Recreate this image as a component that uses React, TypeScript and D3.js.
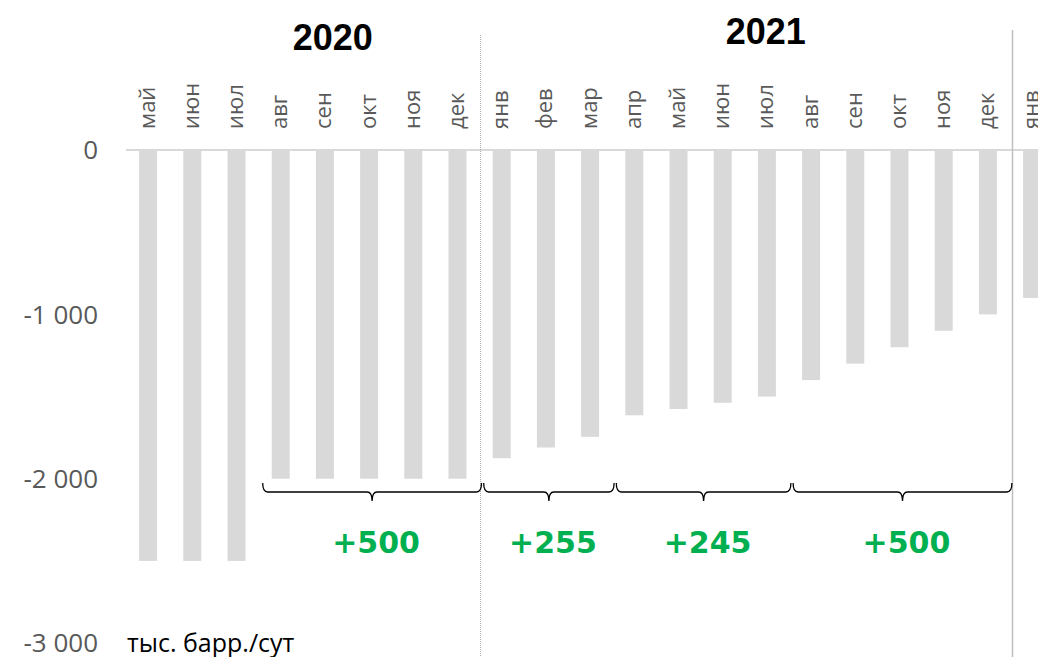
import React from "react";
import * as d3 from "d3";

const months = ["май","июн","июл","авг","сен","окт","ноя","дек","янв","фев","мар","апр","май","июн","июл","авг","сен","окт","ноя","дек","янв"];
const keys = ["2020-05","2020-06","2020-07","2020-08","2020-09","2020-10","2020-11","2020-12","2021-01","2021-02","2021-03","2021-04","2021-05","2021-06","2021-07","2021-08","2021-09","2021-10","2021-11","2021-12","2022-01"];
const values = [-2500,-2500,-2500,-2000,-2000,-2000,-2000,-2000,-1875,-1810,-1745,-1614,-1576,-1538,-1500,-1400,-1300,-1200,-1100,-1000,-900];
const yTicks = [0,-1000,-2000,-3000];
const yTickLabels = ["0","-1 000","-2 000","-3 000"];
const braceStart = ["2020-08","2021-01","2021-04","2021-08"];
const braceEnd = ["2020-12","2021-03","2021-07","2021-12"];
const braceLabels = ["+500","+255","+245","+500"];
const yearLabels = ["2020","2021"];
const yearFirst = ["2020-05","2021-01"];
const yearLast = ["2020-12","2021-12"];
const unitLabel = "тыс. барр./сут";

export default function App() {
  const W = 1038, H = 657;
  const n = keys.length;
  const step = 44.2;
  const x = d3.scaleBand<string>().domain(keys).range([126, 126 + n * step]).paddingInner(0.593).paddingOuter(0.2965);
  const y = d3.scaleLinear().domain([0, -3000]).range([150, 643.1]);
  const bw = x.bandwidth();
  const cx = (k: string) => (x(k) as number) + bw / 2;
  const font = "'Open Sans', sans-serif";

  const div1 = (cx("2020-12") + cx("2021-01")) / 2 + 1;
  const div2 = (cx("2021-12") + cx("2022-01")) / 2 + 2.5;

  const braceY0 = 483, braceY1 = 492, braceY2 = 501;
  const braces = braceStart.map((s, i) => {
    const x0 = cx(s) - 18;
    const x1 = cx(braceEnd[i]) + 24;
    const m = (x0 + x1) / 2;
    const p = `M${x0},${braceY0} Q${x0},${braceY1} ${x0 + 5},${braceY1} L${m - 5},${braceY1} Q${m},${braceY1} ${m},${braceY2} Q${m},${braceY1} ${m + 5},${braceY1} L${x1 - 5},${braceY1} Q${x1},${braceY1} ${x1},${braceY0}`;
    return { p, m, label: braceLabels[i] };
  });

  return (
    <svg width={W} height={H} style={{ position: "absolute", left: 0, top: 0, background: "#fff" }}>
      <line x1={126} x2={W} y1={y(0)} y2={y(0)} stroke="#d9d9d9" strokeWidth={2} />
      {keys.map((k, i) => (
        <rect key={k} x={x(k)} y={y(0) + 1} width={bw} height={y(values[i]) - y(0) - 1} fill="#d9d9d9" />
      ))}
      <line x1={div1} x2={div1} y1={35} y2={H} stroke="#a6a6a6" strokeWidth={1} strokeDasharray="1,1" />
      <line x1={div2} x2={div2} y1={30} y2={H} stroke="#bfbfbf" strokeWidth={1.5} />
      {keys.map((k, i) => (
        <text key={"m" + k} transform={`translate(${cx(k) + 6.5},129) rotate(-90)`} fontFamily={font} fontSize={22} fill="#595959">{months[i]}</text>
      ))}
      {yTicks.map((t, i) => (
        <text key={"t" + t} x={98} y={y(t)} dy="0.36em" textAnchor="end" fontFamily={font} fontSize={26} fill="#595959">{yTickLabels[i]}</text>
      ))}
      <text x={127} y={y(-3000)} dy="0.36em" fontFamily={font} fontSize={25} fill="#000">{unitLabel}</text>
      {yearLabels.map((yl, i) => {
        const xm = (cx(yearFirst[i]) + cx(yearLast[i])) / 2 + (i === 0 ? 30 : 21);
        return (
          <text key={yl} x={xm} y={i === 0 ? 50 : 44} textAnchor="middle" fontFamily="'Liberation Sans', Arial, sans-serif" fontWeight="bold" fontSize={36} fill="#000">{yl}</text>
        );
      })}
      {braces.map((b, i) => (
        <g key={"b" + i}>
          <path d={b.p} fill="none" stroke="#000" strokeWidth={1.3} />
          <text x={b.m + 4} y={553} textAnchor="middle" fontFamily="'DejaVu Sans', sans-serif" fontWeight="bold" fontSize={30} fill="#00b050">{b.label}</text>
        </g>
      ))}
    </svg>
  );
}
